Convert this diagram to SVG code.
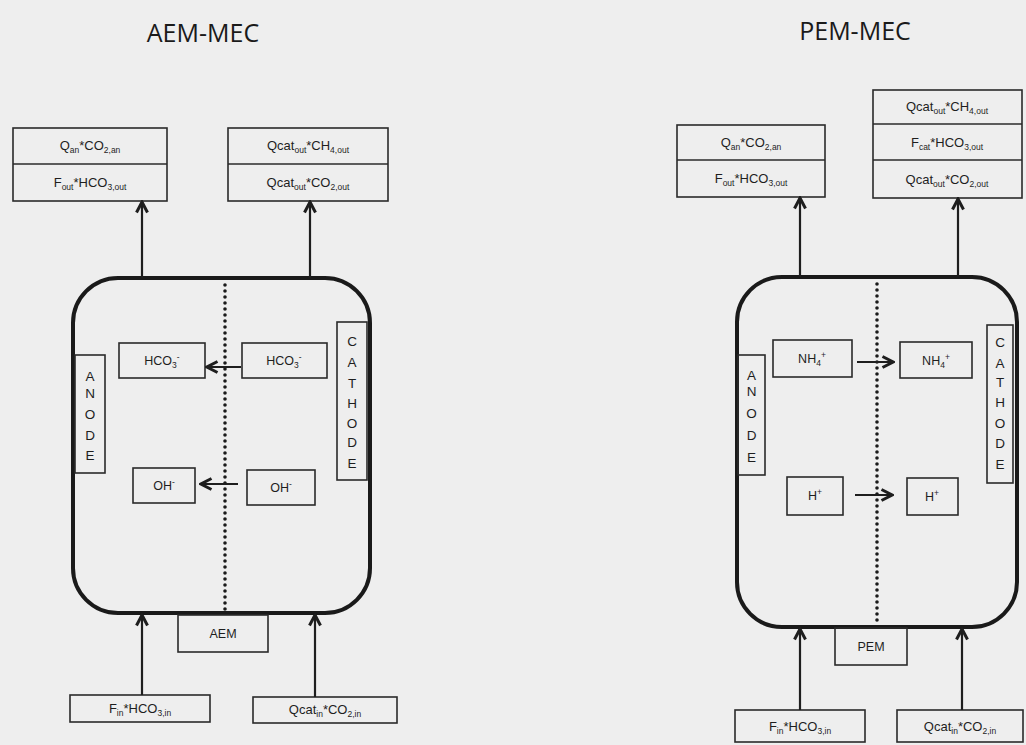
<svg xmlns="http://www.w3.org/2000/svg" width="1026" height="745" viewBox="0 0 1026 745">
<defs>
<style>
.bg{fill:#eeeeee}
.box{fill:none;stroke:#2a2a2a;stroke-width:1.6}
.reactor{fill:none;stroke:#1a1a1a;stroke-width:4}
.dots{fill:none;stroke:#1a1a1a;stroke-width:3.6;stroke-linecap:round;stroke-dasharray:0 6}
.conn{fill:none;stroke:#1e1e1e;stroke-width:2.2}
.title{font-family:"Open Sans","Liberation Sans",sans-serif;font-size:25px;fill:#1a1a1a;text-anchor:middle}
.lbl{font-family:"Liberation Sans",Arial,sans-serif;font-size:13px;fill:#1e1e1e;text-anchor:middle}
.ion{font-family:"Liberation Sans",Arial,sans-serif;font-size:12.5px;fill:#1e1e1e;text-anchor:middle}
.vert{font-family:"Liberation Sans",Arial,sans-serif;font-size:13.5px;fill:#1e1e1e;text-anchor:middle}
.s{font-size:8.5px}
</style>
<marker id="chev" viewBox="0 0 14 14" refX="12" refY="7" markerWidth="14" markerHeight="14" markerUnits="userSpaceOnUse" orient="auto">
<path d="M1.5,1.5 L12,7 L1.5,12.5" fill="none" stroke="#1e1e1e" stroke-width="3" stroke-linejoin="miter"/>
</marker>
</defs>
<rect class="bg" x="0" y="0" width="1026" height="745"/>

<text class="title" x="203" y="42">AEM-MEC</text>
<text class="title" x="855" y="40">PEM-MEC</text>

<!-- AEM-MEC -->
<g id="aem-reactor">
<rect class="reactor" x="73" y="278" width="297" height="335" rx="45" ry="45"/>
<line class="dots" x1="225" y1="285" x2="225" y2="610"/>
</g>
<g id="aem-out-anode">
<rect class="box" x="13" y="128" width="154" height="73"/>
<line class="box" x1="13" y1="164" x2="167" y2="164"/>
<text class="lbl" x="90" y="150">Q<tspan class="s" dy="3">an</tspan><tspan dy="-3">*CO</tspan><tspan class="s" dy="3">2,an</tspan></text>
<text class="lbl" x="90" y="187">F<tspan class="s" dy="3">out</tspan><tspan dy="-3">*HCO</tspan><tspan class="s" dy="3">3,out</tspan></text>
</g>
<g id="aem-out-cathode">
<rect class="box" x="228" y="128" width="160" height="73"/>
<line class="box" x1="228" y1="164" x2="388" y2="164"/>
<text class="lbl" x="308" y="150">Qcat<tspan class="s" dy="3">out</tspan><tspan dy="-3">*CH</tspan><tspan class="s" dy="3">4,out</tspan></text>
<text class="lbl" x="308" y="187">Qcat<tspan class="s" dy="3">out</tspan><tspan dy="-3">*CO</tspan><tspan class="s" dy="3">2,out</tspan></text>
</g>
<g id="aem-anode">
<rect class="box" x="75" y="355" width="30" height="118"/>
<text class="vert" x="90" y="381">A</text>
<text class="vert" x="90" y="398">N</text>
<text class="vert" x="90" y="419">O</text>
<text class="vert" x="90" y="440">D</text>
<text class="vert" x="90" y="460">E</text>
</g>
<g id="aem-cathode">
<rect class="box" x="337" y="322" width="30" height="158"/>
<text class="vert" x="352" y="346">C</text>
<text class="vert" x="352" y="367">A</text>
<text class="vert" x="352" y="388">T</text>
<text class="vert" x="352" y="408">H</text>
<text class="vert" x="352" y="428">O</text>
<text class="vert" x="352" y="447">D</text>
<text class="vert" x="352" y="468">E</text>
</g>
<g id="aem-hco3-anode">
<rect class="box" x="119" y="343" width="86" height="35"/>
<text class="ion" x="162" y="365">HCO<tspan class="s" dy="3">3</tspan><tspan class="s" dy="-8">-</tspan></text>
</g>
<g id="aem-hco3-cathode">
<rect class="box" x="242" y="343" width="85" height="35"/>
<text class="ion" x="284" y="365">HCO<tspan class="s" dy="3">3</tspan><tspan class="s" dy="-8">-</tspan></text>
</g>
<g id="aem-oh-anode">
<rect class="box" x="133" y="468" width="62" height="35"/>
<text class="ion" x="164" y="490">OH<tspan class="s" dy="-5">-</tspan></text>
</g>
<g id="aem-oh-cathode">
<rect class="box" x="247" y="470" width="68" height="35"/>
<text class="ion" x="281" y="492">OH<tspan class="s" dy="-5">-</tspan></text>
</g>
<g id="aem-membrane">
<rect class="box" x="178" y="615" width="90" height="37"/>
<text class="ion" x="223" y="638">AEM</text>
</g>
<g id="aem-in-anode">
<rect class="box" x="70" y="695" width="140" height="27"/>
<text class="lbl" x="140" y="713">F<tspan class="s" dy="3">in</tspan><tspan dy="-3">*HCO</tspan><tspan class="s" dy="3">3,in</tspan></text>
</g>
<g id="aem-in-cathode">
<rect class="box" x="253" y="697" width="144" height="26"/>
<text class="lbl" x="325" y="714">Qcat<tspan class="s" dy="3">in</tspan><tspan dy="-3">*CO</tspan><tspan class="s" dy="3">2,in</tspan></text>
</g>

<!-- PEM-MEC -->
<g id="pem-reactor">
<rect class="reactor" x="737" y="277" width="280" height="350" rx="45" ry="45"/>
<line class="dots" x1="877" y1="284" x2="877" y2="624"/>
</g>
<g id="pem-out-anode">
<rect class="box" x="677" y="125" width="148" height="72"/>
<line class="box" x1="677" y1="160" x2="825" y2="160"/>
<text class="lbl" x="751" y="147">Q<tspan class="s" dy="3">an</tspan><tspan dy="-3">*CO</tspan><tspan class="s" dy="3">2,an</tspan></text>
<text class="lbl" x="751" y="183">F<tspan class="s" dy="3">out</tspan><tspan dy="-3">*HCO</tspan><tspan class="s" dy="3">3,out</tspan></text>
</g>
<g id="pem-out-cathode">
<rect class="box" x="873" y="90" width="149" height="108"/>
<line class="box" x1="873" y1="124" x2="1022" y2="124"/>
<line class="box" x1="873" y1="160" x2="1022" y2="160"/>
<text class="lbl" x="947" y="111">Qcat<tspan class="s" dy="3">out</tspan><tspan dy="-3">*CH</tspan><tspan class="s" dy="3">4,out</tspan></text>
<text class="lbl" x="947" y="147">F<tspan class="s" dy="3">cat</tspan><tspan dy="-3">*HCO</tspan><tspan class="s" dy="3">3,out</tspan></text>
<text class="lbl" x="947" y="184">Qcat<tspan class="s" dy="3">out</tspan><tspan dy="-3">*CO</tspan><tspan class="s" dy="3">2,out</tspan></text>
</g>
<g id="pem-anode">
<rect class="box" x="738" y="355" width="27" height="120"/>
<text class="vert" x="751.5" y="380">A</text>
<text class="vert" x="751.5" y="396">N</text>
<text class="vert" x="751.5" y="418">O</text>
<text class="vert" x="751.5" y="440">D</text>
<text class="vert" x="751.5" y="462">E</text>
</g>
<g id="pem-cathode">
<rect class="box" x="987" y="325" width="26" height="158"/>
<text class="vert" x="1000" y="347">C</text>
<text class="vert" x="1000" y="368">A</text>
<text class="vert" x="1000" y="387">T</text>
<text class="vert" x="1000" y="407">H</text>
<text class="vert" x="1000" y="428">O</text>
<text class="vert" x="1000" y="448">D</text>
<text class="vert" x="1000" y="469">E</text>
</g>
<g id="pem-nh4-anode">
<rect class="box" x="773" y="340" width="79" height="37"/>
<text class="ion" x="812" y="363">NH<tspan class="s" dy="3">4</tspan><tspan class="s" dy="-8">+</tspan></text>
</g>
<g id="pem-nh4-cathode">
<rect class="box" x="900" y="342" width="72" height="36"/>
<text class="ion" x="936" y="365">NH<tspan class="s" dy="3">4</tspan><tspan class="s" dy="-8">+</tspan></text>
</g>
<g id="pem-h-anode">
<rect class="box" x="787" y="477" width="56" height="38"/>
<text class="ion" x="815" y="500">H<tspan class="s" dy="-5">+</tspan></text>
</g>
<g id="pem-h-cathode">
<rect class="box" x="907" y="478" width="51" height="37"/>
<text class="ion" x="932" y="501">H<tspan class="s" dy="-5">+</tspan></text>
</g>
<g id="pem-membrane">
<rect class="box" x="835" y="628" width="72" height="37"/>
<text class="ion" x="871" y="651">PEM</text>
</g>
<g id="pem-in-anode">
<rect class="box" x="735" y="710" width="130" height="32"/>
<text class="lbl" x="800" y="731">F<tspan class="s" dy="3">in</tspan><tspan dy="-3">*HCO</tspan><tspan class="s" dy="3">3,in</tspan></text>
</g>
<g id="pem-in-cathode">
<rect class="box" x="897" y="710" width="126" height="32"/>
<text class="lbl" x="960" y="731">Qcat<tspan class="s" dy="3">in</tspan><tspan dy="-3">*CO</tspan><tspan class="s" dy="3">2,in</tspan></text>
</g>

<g id="connectors">
<line class="conn" x1="142" y1="278" x2="142" y2="202" marker-end="url(#chev)"/>
<line class="conn" x1="310" y1="278" x2="310" y2="202" marker-end="url(#chev)"/>
<line class="conn" x1="142" y1="695" x2="142" y2="615" marker-end="url(#chev)" stroke="#9a9a9a"/>
<line class="conn" x1="315" y1="697" x2="315" y2="615" marker-end="url(#chev)"/>
<line class="conn" x1="241" y1="367" x2="207" y2="367" marker-end="url(#chev)"/>
<line class="conn" x1="238" y1="484" x2="201" y2="484" marker-end="url(#chev)"/>
<line class="conn" x1="800" y1="277" x2="800" y2="198" marker-end="url(#chev)"/>
<line class="conn" x1="958" y1="277" x2="958" y2="199" marker-end="url(#chev)"/>
<line class="conn" x1="800" y1="710" x2="800" y2="629" marker-end="url(#chev)"/>
<line class="conn" x1="962" y1="710" x2="962" y2="629" marker-end="url(#chev)"/>
<line class="conn" x1="857" y1="362" x2="893" y2="362" marker-end="url(#chev)"/>
<line class="conn" x1="855" y1="495" x2="892" y2="495" marker-end="url(#chev)"/>
</g>
</svg>
